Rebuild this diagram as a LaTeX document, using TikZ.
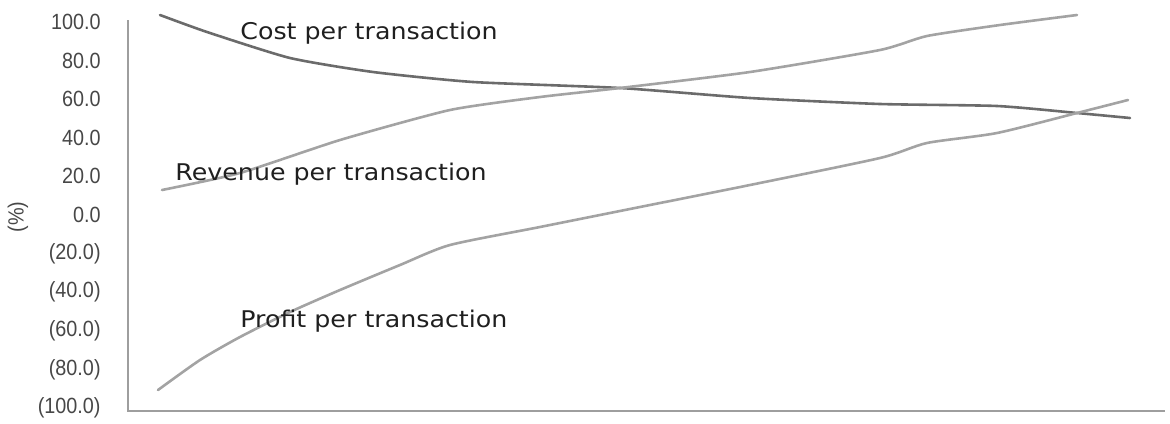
\documentclass[tikz,border=0pt]{standalone}
\usepackage{fontspec}
\setmainfont{DejaVu Sans}
\newfontfamily\tickfont[FakeStretch=0.9]{Liberation Sans}
\newfontfamily\labfont[FakeStretch=1.1]{DejaVu Sans}
\begin{document}
\begin{tikzpicture}[x=0.5pt,y=-0.5pt,
  axisline/.style={draw=black!38,line width=0.6pt},
  costline/.style={draw=black!58,line width=1.3pt,line cap=round,line join=round},
  revline/.style={draw=black!36,line width=1.3pt,line cap=round,line join=round},
  profline/.style={draw=black!36,line width=1.3pt,line cap=round,line join=round},
  ticklab/.style={anchor=east,inner sep=0pt,text=black!72,font=\tickfont\fontsize{11}{13}\selectfont},
  serieslab/.style={inner sep=0pt,text=black!88,font=\labfont\fontsize{11.5}{13}\selectfont}]
\useasboundingbox (0,0) rectangle (1170,423);
% axes
\coordinate (otop) at (128,20);
\coordinate (orig) at (128,411);
\coordinate (xend) at (1165,411);
\draw[axisline] (otop) -- (orig) -- (xend);
% tick labels
\foreach \v/\t/\n in {100/100.0/a,80/80.0/b,60/60.0/c,40/40.0/d,20/20.0/e,0/0.0/f,
  -20/(20.0)/g,-40/(40.0)/h,-60/(60.0)/i,-80/(80.0)/j,-100/(100.0)/k}
  \node[ticklab] (tick\n) at (101,{215-1.93*\v}) {\t};
\node[ticklab,anchor=center,rotate=90] (unit) at (18,217) {(\%)};
% series
\draw[costline] plot[smooth,tension=0.35] coordinates {(160,15) (207,32) (290,58) (373,72) (473,82) (620,88) (750,98) (880,104) (997,106) (1077,113) (1130,118)};
\draw[revline] plot[smooth,tension=0.35] coordinates {(162,190) (240,173) (340,140) (450,110) (540,97) (620,88) (750,72) (880,50) (927,36) (1000,25) (1077,15)};
\draw[profline] plot[smooth,tension=0.4] coordinates {(158,390) (200,360) (240,337) (290,312) (340,290) (400,265) (450,245) (540,227) (640,207) (750,185) (880,158) (927,143) (997,133) (1077,113) (1128,100)};
% series labels
\node[serieslab,anchor=base west] (cost) at (240,39) {Cost per transaction};
\node[serieslab,anchor=base west] (rev) at (175,180) {Revenue per transaction};
\node[serieslab,anchor=base west] (prof) at (240,327) {Profit per transaction};
\end{tikzpicture}
\end{document}
